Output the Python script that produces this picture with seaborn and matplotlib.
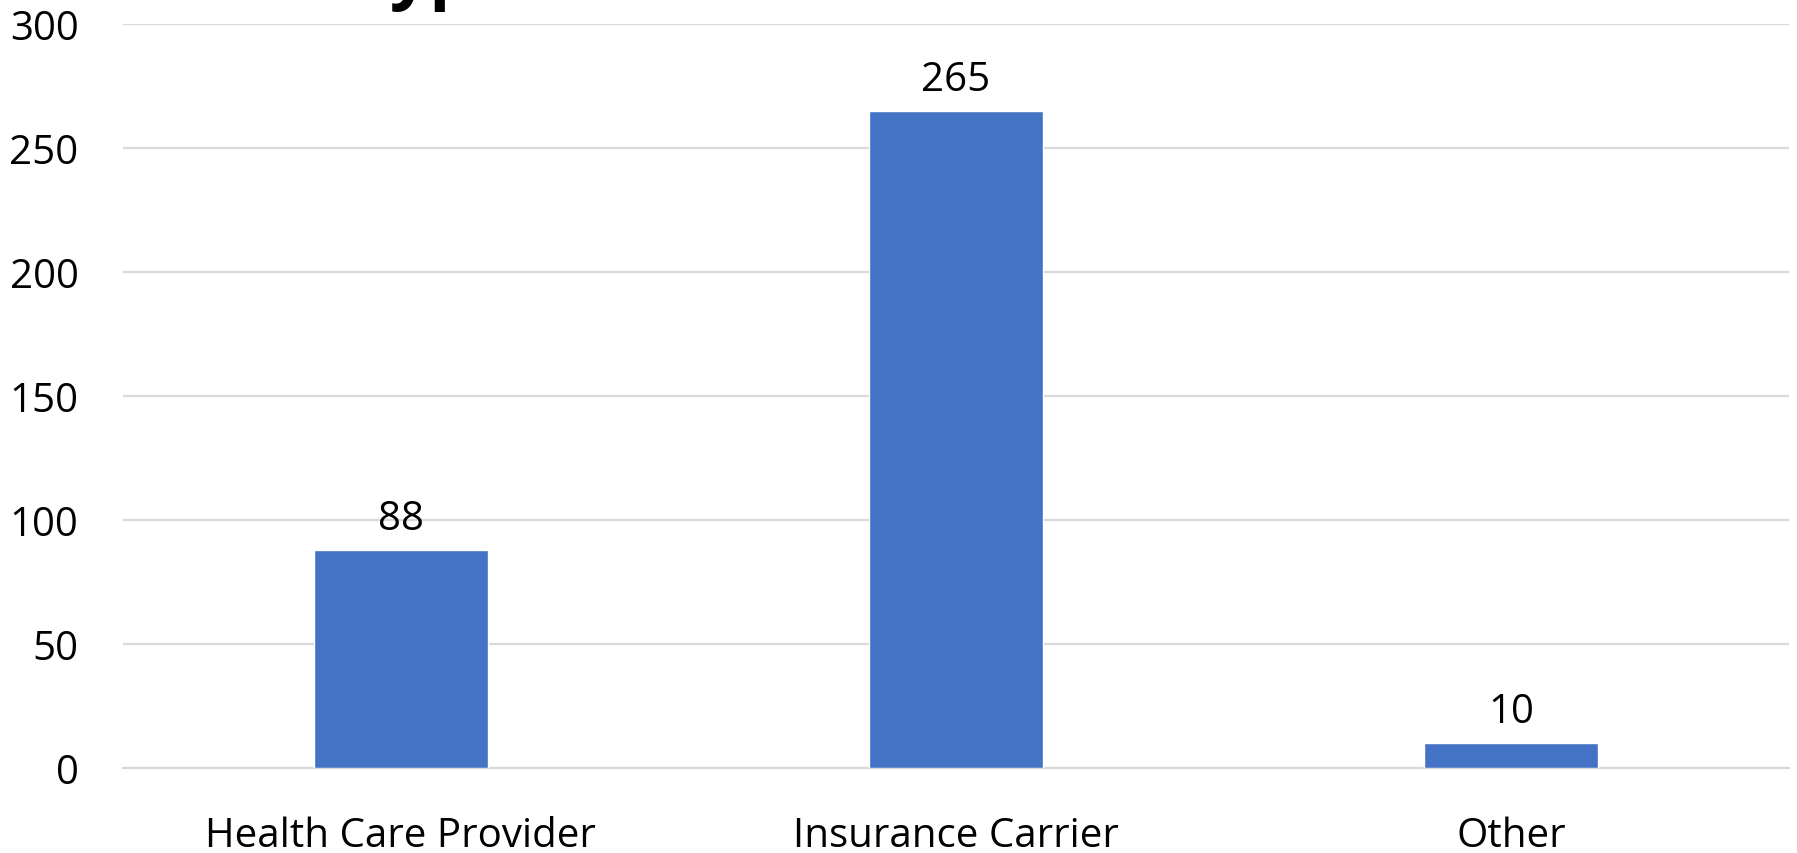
import matplotlib
matplotlib.use("Agg")
import matplotlib.pyplot as plt
import seaborn as sns
import pandas as pd

categories = ["Health Care Provider", "Insurance Carrier", "Other"]
values = [88, 265, 10]
yticks = [0, 50, 100, 150, 200, 250, 300]

sns.set_theme(style="white")
plt.rcParams['font.family'] = ['Open Sans', 'DejaVu Sans']

df = pd.DataFrame({"cat": categories, "val": values})

W, H = 1797, 854
fig = plt.figure(figsize=(W / 100, H / 100), dpi=100)
left, right, top, bottom = 123, 1789, 25, 769
ax = fig.add_axes([left / W, 1 - bottom / H, (right - left) / W, (bottom - top) / H])
sns.barplot(data=df, x="cat", y="val", color="#4472C4", width=0.313,
            saturation=1, ax=ax, zorder=3)
ax.set_ylim(0, 300)
ax.set_xlim(-0.5, 2.5)
ax.set_yticks(yticks)
ax.set_yticklabels([str(t) for t in yticks])
ax.yaxis.grid(True, color="#D9D9D9", linewidth=1.6, zorder=0)
ax.set_axisbelow(True)
for s in ["left", "right", "top"]:
    ax.spines[s].set_visible(False)
ax.spines["bottom"].set_color("#D9D9D9")
ax.spines["bottom"].set_linewidth(1.6)
ax.tick_params(axis="both", length=0, labelsize=29, colors="black")
ax.tick_params(axis="x", pad=34)
ax.tick_params(axis="y", pad=32)
ax.set_xlabel("")
ax.set_ylabel("")
for c in ax.containers:
    ax.bar_label(c, labels=[str(v) for v in values], padding=8, fontsize=29, color="black")

fig.text(352 / W, 1.006, "Type", fontsize=50, fontweight="bold", va="baseline", ha="left", color="black")

fig.savefig("out.png", dpi=100, facecolor="white")
